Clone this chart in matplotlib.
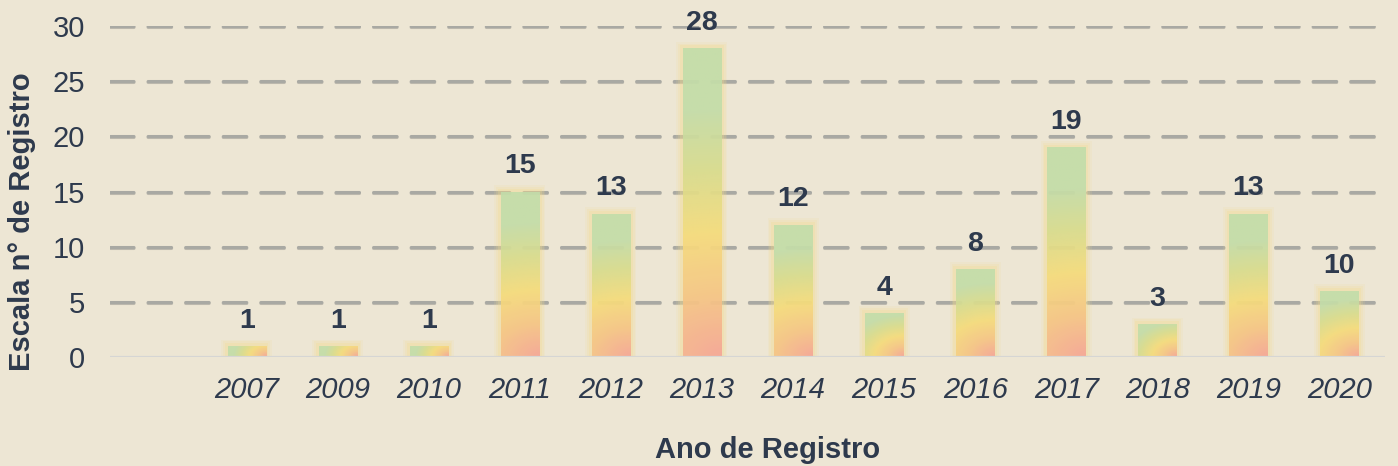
import numpy as np
import matplotlib
matplotlib.use("Agg")
import matplotlib.pyplot as plt
import matplotlib.patheffects as pe
from matplotlib.colors import LinearSegmentedColormap
from matplotlib.patches import Rectangle

# data
years = ["", "2007", "2009", "2010", "2011", "2012", "2013", "2014",
         "2015", "2016", "2017", "2018", "2019", "2020"]
heights = [None, 1, 1, 1, 15, 13, 28, 12, 4, 8, 19, 3, 13, 6]
value_labels = ["", "1", "1", "1", "15", "13", "28", "12", "4", "8", "19", "3", "13", "10"]
yticks = [0, 5, 10, 15, 20, 25, 30]

bg = "#EDE6D4"
txt = "#2E3A4D"
cmap = LinearSegmentedColormap.from_list(
    "bar", ["#F5A496", "#F5C585", "#F5DC7C", "#D8DC8E", "#C2DDAA", "#C2DDAA"])

plt.rcParams["font.family"] = ["Liberation Sans", "DejaVu Sans"]

fig = plt.figure(figsize=(13.98, 4.66), dpi=100, facecolor=bg)
ax = fig.add_axes([0.0787, 0.2339, 0.9120, 0.7103])
ax.set_facecolor(bg)
ax.set_xlim(-0.5, len(years) - 0.5)
ax.set_ylim(0, 30)

# gridlines
shadow = [pe.SimpleLineShadow(offset=(0, -0.8), shadow_color="#777777", alpha=0.4), pe.Normal()]
for t in yticks[1:]:
    ax.axhline(t, color="#A9A9A3", lw=2.2, ls=(0, (7.7, 4.6)),
               solid_capstyle="round", dash_capstyle="round",
               zorder=1, path_effects=shadow)
ax.axhline(0, color="#D6D6D4", lw=1.6, zorder=4)

# bars
bw = 0.42
px_per_x = 91.0
px_per_y = 11.03
for i, h in enumerate(heights):
    if h is None:
        continue
    x0, x1 = i - bw / 2, i + bw / 2
    # glow
    for k, a in [(0.07, 0.12), (0.05, 0.18), (0.03, 0.25)]:
        ax.add_patch(Rectangle((x0 - k, 0), bw + 2 * k, h + k * px_per_x / px_per_y,
                               facecolor="#F3DB8E", edgecolor="none", alpha=a, zorder=2))
    W = bw * px_per_x
    H = h * px_per_y
    nx, ny = 40, max(int(H), 10)
    gx = np.linspace(0, W, nx)
    gy = np.linspace(0, H, ny)
    X, Y = np.meshgrid(gx, gy)
    d = np.sqrt((W - X) ** 2 * 0.5 + Y ** 2) / np.sqrt(W ** 2 * 0.5 + H ** 2)
    im = ax.imshow(d, cmap=cmap, vmin=0, vmax=1, origin="lower",
                   extent=[x0, x1, 0, h], aspect="auto", zorder=3, alpha=0.9,
                   interpolation="bilinear")
    rect = Rectangle((x0, 0), bw, h, transform=ax.transData, facecolor="none", edgecolor="none")
    ax.add_patch(rect)
    im.set_clip_path(rect)
    ax.text(i, h + 1.1, value_labels[i], ha="center", va="bottom", fontsize=20.5,
            fontweight="bold", color=txt, zorder=5, clip_on=False)

ax.set_xticks(range(len(years)))
ax.set_xticklabels(years, fontsize=21, fontstyle="italic", color=txt)
ax.set_yticks(yticks)
ax.set_yticklabels([str(t) for t in yticks], fontsize=21, color=txt)
ax.tick_params(length=0)
ax.tick_params(axis="x", pad=14)
ax.tick_params(axis="y", pad=18)
for s in ax.spines.values():
    s.set_visible(False)

ax.set_xlabel("Ano de Registro", fontsize=21, fontweight="bold", color=txt,
              va="center", ha="center")
ax.set_ylabel("Escala n° de Registro", fontsize=21, fontweight="bold", color=txt,
              va="center", ha="center")
ax.xaxis.set_label_coords(0.516, -0.281)
ax.yaxis.set_label_coords(-0.069, 0.41)

fig.savefig("out.png", dpi=100, facecolor=bg)
